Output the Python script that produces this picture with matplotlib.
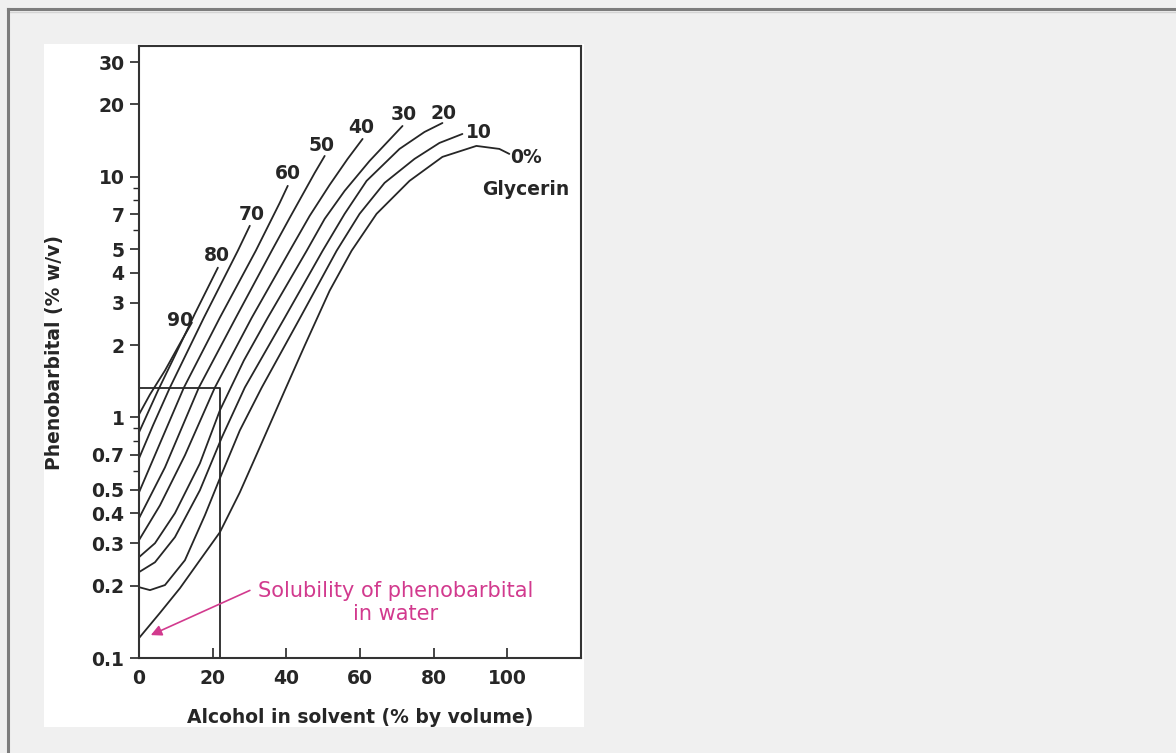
import matplotlib
matplotlib.use('Agg')
import matplotlib.pyplot as plt
from matplotlib.patches import Rectangle
from matplotlib.lines import Line2D
from matplotlib.ticker import FixedLocator, FixedFormatter, NullFormatter

plt.rcParams['font.family'] = ['DejaVu Sans']

# alcohol in solvent (% by volume) vs phenobarbital solubility (% w/v), one curve per glycerin %
g0_x = [0, 5.69, 11.11, 16.53, 21.95, 27.37, 32.79, 39.57, 44.99, 51.76, 57.72, 64.50, 73.44, 82.38, 91.60, 97.83, 100.54]
g0_y = [0.121, 0.154, 0.195, 0.255, 0.333, 0.488, 0.751, 1.294, 1.990, 3.365, 4.932, 7.022, 9.625, 12.11, 13.45, 13.07, 12.46]
g10_x = [0, 2.98, 7.05, 12.47, 17.89, 21.95, 27.37, 33.33, 43.63, 53.66, 59.89, 66.67, 74.80, 81.57, 87.80]
g10_y = [0.197, 0.1915, 0.201, 0.255, 0.392, 0.558, 0.883, 1.332, 2.576, 4.932, 7.022, 9.443, 11.88, 13.84, 15.08]
g20_x = [0, 4.34, 9.76, 16.53, 22.49, 28.73, 39.57, 49.86, 55.83, 61.79, 70.73, 77.51, 82.38]
g20_y = [0.2275, 0.250, 0.318, 0.498, 0.826, 1.332, 2.599, 4.932, 7.022, 9.625, 13.07, 15.37, 16.75]
g30_x = [0, 4.34, 9.76, 16.53, 21.95, 28.46, 34.96, 45.53, 50.41, 55.83, 62.60, 71.54]
g30_y = [0.2625, 0.300, 0.400, 0.644, 1.069, 1.724, 2.599, 4.932, 6.693, 8.748, 11.65, 16.28]
g40_x = [0, 5.69, 12.47, 20.60, 30.62, 40.92, 46.34, 51.76, 56.64, 60.70]
g40_y = [0.309, 0.431, 0.696, 1.332, 2.599, 4.932, 6.888, 9.264, 11.88, 14.38]
g50_x = [0, 7.05, 16.26, 26.29, 36.04, 40.92, 44.99, 47.70, 50.41]
g50_y = [0.381, 0.620, 1.332, 2.599, 4.932, 6.758, 8.748, 10.39, 12.22]
g60_x = [0, 5.69, 12.20, 21.95, 31.71, 35.50, 38.21, 40.38]
g60_y = [0.488, 0.780, 1.332, 2.599, 4.932, 6.442, 7.80, 9.177]
g70_x = [0, 3.79, 8.40, 17.62, 26.83, 30.08]
g70_y = [0.676, 0.926, 1.332, 2.599, 4.932, 6.262]
g80_x = [0, 5.15, 9.76, 15.18, 21.41]
g80_y = [0.867, 1.294, 1.809, 2.701, 4.193]
g90_x = [0, 2.98, 7.05, 11.11, 14.36]
g90_y = [1.029, 1.246, 1.567, 2.028, 2.479]

curve_labels = ['90', '80', '70', '60', '50', '40', '30', '20', '10', '0%']
label_x = [11.1, 21.1, 30.5, 40.3, 49.7, 60.3, 71.9, 82.7, 92.2, 105]
label_y = [2.53, 4.69, 7.0, 10.3, 13.45, 16.0, 18.2, 18.4, 15.3, 12.0]

# read-off box for 22 % alcohol
box_x = 22
box_y = 1.32

y_ticks = [0.1, 0.2, 0.3, 0.4, 0.5, 0.7, 1, 2, 3, 4, 5, 7, 10, 20, 30]
y_ticklabels = ['0.1', '0.2', '0.3', '0.4', '0.5', '0.7', '1', '2', '3', '4', '5', '7', '10', '20', '30']
y_minor = [0.6, 0.8, 0.9, 6, 8, 9]
x_ticks = [0, 20, 40, 60, 80, 100]

pink = '#d23a8e'
ink = '#262626'
fs = 13.5

fig = plt.figure(figsize=(11.76, 7.53), dpi=100, facecolor='#f0f0f0')
fig.patches.append(Rectangle((44 / 1176, 1 - 727 / 753), 540 / 1176, 683 / 753,
                             transform=fig.transFigure, facecolor='white',
                             edgecolor='none', zorder=-10))
fig.add_artist(Line2D([8 / 1176, 1], [1 - 9 / 753, 1 - 9 / 753], color='#7d7d7d', lw=2.2))
fig.add_artist(Line2D([8 / 1176, 1], [1 - 11.5 / 753, 1 - 11.5 / 753], color='#d4d4d4', lw=1))
fig.add_artist(Line2D([8 / 1176, 8 / 1176], [0, 1 - 9 / 753], color='#7d7d7d', lw=2.2))

ax = fig.add_axes([139 / 1176, 1 - 658 / 753, 442 / 1176, 612 / 753])
ax.set_zorder(5)
ax.set_yscale('log')
ax.set_xlim(0, 120)
ax.set_ylim(0.1, 35)

curves = [(g0_x, g0_y), (g10_x, g10_y), (g20_x, g20_y), (g30_x, g30_y), (g40_x, g40_y),
          (g50_x, g50_y), (g60_x, g60_y), (g70_x, g70_y), (g80_x, g80_y), (g90_x, g90_y)]
for cx, cy in curves:
    ax.plot(cx, cy, color=ink, lw=1.3, solid_capstyle='round', solid_joinstyle='round')

ax.plot([0, box_x, box_x], [box_y, box_y, 0.1], color=ink, lw=1.3)

for t, lx, ly in zip(curve_labels, label_x, label_y):
    ax.text(lx, ly, t, ha='center', va='center', fontsize=fs, fontweight='bold', color=ink)
ax.text(105, 8.9, 'Glycerin', ha='center', va='center', fontsize=fs, fontweight='bold', color=ink)

ax.annotate('', xy=(3.2, 0.1245), xytext=(30.1, 0.191),
            arrowprops=dict(arrowstyle='-|>', color=pink, lw=1.2, mutation_scale=16,
                            shrinkA=0, shrinkB=0))
ax.text(69.6, 0.1699, 'Solubility of phenobarbital\nin water', ha='center', va='center',
        color=pink, fontsize=15, linespacing=1.2)

ax.yaxis.set_major_locator(FixedLocator(y_ticks))
ax.yaxis.set_major_formatter(FixedFormatter(y_ticklabels))
ax.yaxis.set_minor_locator(FixedLocator(y_minor))
ax.yaxis.set_minor_formatter(NullFormatter())
ax.set_xticks(x_ticks)
ax.set_xticklabels([str(v) for v in x_ticks])

ax.tick_params(axis='y', which='major', direction='out', length=6.5, width=1.2,
               labelsize=fs, pad=4, colors=ink)
ax.tick_params(axis='y', which='minor', direction='out', length=4, width=1.0, colors=ink)
ax.tick_params(axis='x', which='major', direction='in', length=7, width=1.2,
               labelsize=fs, pad=8, colors=ink)
for lab in ax.get_xticklabels() + ax.get_yticklabels():
    lab.set_fontweight('bold')

for s in ax.spines.values():
    s.set_color('#333333')
    s.set_linewidth(1.5)

ax.set_xlabel('Alcohol in solvent (% by volume)', fontsize=fs, fontweight='bold',
              color=ink, labelpad=14)
ax.set_ylabel('Phenobarbital (% w/v)', fontsize=fs, fontweight='bold', color=ink, labelpad=20)

fig.savefig('out.png', dpi=100, facecolor=fig.get_facecolor())
